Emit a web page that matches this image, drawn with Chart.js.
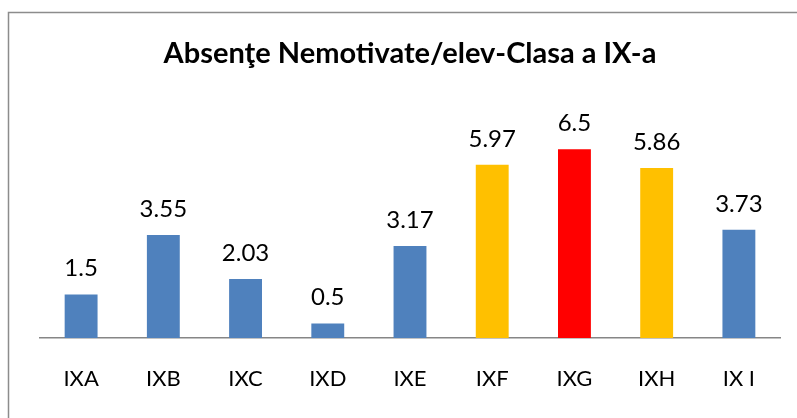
<!DOCTYPE html>
<html>
<head>
<meta charset="utf-8">
<script src="https://cdn.jsdelivr.net/npm/chart.js@4.4.0/dist/chart.umd.min.js"></script>
<style>
  html, body { margin: 0; padding: 0; background: #fff; }
  #wrap { width: 797px; height: 418px; position: relative; }
</style>
</head>
<body>
<div id="wrap"><canvas id="chart" width="797" height="418"></canvas></div>
<script>
const classes = ['IXA', 'IXB', 'IXC', 'IXD', 'IXE', 'IXF', 'IXG', 'IXH', 'IX I']
const absences = [1.5, 3.55, 2.03, 0.5, 3.17, 5.97, 6.5, 5.86, 3.73]
const barColors = ['#4F81BD', '#4F81BD', '#4F81BD', '#4F81BD', '#4F81BD', '#FFC000', '#FF0000', '#FFC000', '#4F81BD']

// frame around the chart + value labels over the bars
const frameAndLabels = {
  id: 'frameAndLabels',
  beforeDraw(chart) {
    const ctx = chart.ctx
    ctx.save()
    ctx.strokeStyle = '#8c8c8c'
    ctx.lineWidth = 1.5
    ctx.strokeRect(8.5, 12.5, 820, 440)
    ctx.restore()
  },
  afterDatasetsDraw(chart) {
    const ctx = chart.ctx
    const meta = chart.getDatasetMeta(0)
    ctx.save()
    ctx.font = '24px Lato'
    ctx.fillStyle = '#000'
    ctx.textAlign = 'center'
    ctx.textBaseline = 'alphabetic'
    meta.data.forEach((bar, i) => {
      ctx.fillText(String(absences[i]), bar.x, bar.y - 18)
    })
    ctx.restore()
  }
}

new Chart(document.getElementById('chart'), {
  type: 'bar',
  data: {
    labels: classes,
    datasets: [{
      data: absences,
      backgroundColor: barColors,
      borderWidth: 0,
      barPercentage: 0.4,
      categoryPercentage: 1
    }]
  },
  options: {
    responsive: false,
    animation: false,
    layout: { padding: { left: 40, right: 17, top: 0, bottom: 0 } },
    plugins: {
      legend: { display: false },
      tooltip: { enabled: false },
      title: {
        display: true,
        text: 'Absenţe Nemotivate/elev-Clasa a IX-a',
        color: '#000',
        font: { family: 'Lato', size: 29, weight: 'bold' },
        padding: { top: 36, bottom: 64 }
      }
    },
    scales: {
      x: {
        grid: { display: false, drawTicks: false },
        border: { display: true, color: '#868686', width: 1.5 },
        ticks: { color: '#000', font: { family: 'Lato', size: 22 }, padding: 28 },
        afterFit(scale) { scale.height = 80 }
      },
      y: {
        display: false,
        min: 0,
        max: 7
      }
    }
  },
  plugins: [frameAndLabels]
})
</script>
</body>
</html>
